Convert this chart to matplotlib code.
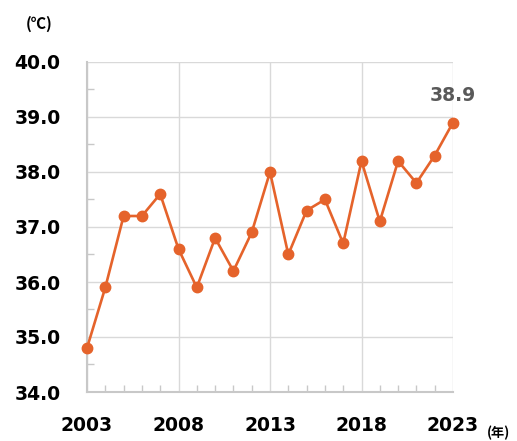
import matplotlib.pyplot as plt
from matplotlib.ticker import MultipleLocator

years = list(range(2003, 2024))
temps = [34.8, 35.9, 37.2, 37.2, 37.6, 36.6, 35.9, 36.8, 36.2, 36.9, 38.0,
         36.5, 37.3, 37.5, 36.7, 38.2, 37.1, 38.2, 37.8, 38.3, 38.9]
xticks = [2003, 2008, 2013, 2018, 2023]
yticks = [34.0, 35.0, 36.0, 37.0, 38.0, 39.0, 40.0]

plt.rcParams['font.family'] = ['DejaVu Sans', 'Noto Sans CJK JP']

fig = plt.figure(figsize=(5.17, 4.41), dpi=100)
ax = fig.add_axes([87 / 517, 1 - 392 / 441, (453 - 87) / 517, (392 - 62) / 441])

ax.plot(years, temps, color='#E5632B', lw=1.9, marker='o', ms=7.5, zorder=3, clip_on=False)

ax.set_xlim(2003, 2023)
ax.set_ylim(34, 40)
ax.set_xticks(xticks)
ax.set_yticks(yticks)
ax.set_xticklabels([str(x) for x in xticks], fontsize=13.5, fontweight='bold')
ax.set_yticklabels([f'{y:.1f}' for y in yticks], fontsize=13.5, fontweight='bold')
ax.xaxis.set_minor_locator(MultipleLocator(1))
ax.yaxis.set_minor_locator(MultipleLocator(0.5))
ax.tick_params(which='major', length=0, pad=19)
ax.tick_params(which='minor', direction='in', length=5, color='#C8C8C8', width=1)
ax.tick_params(axis='x', which='major', pad=17)

ax.grid(True, which='major', color='#D9D9D9', lw=1)
for s in ['top', 'right']:
    ax.spines[s].set_visible(False)
for s in ['left', 'bottom']:
    ax.spines[s].set_color('#C8C8C8')
    ax.spines[s].set_linewidth(1.5)

ax.text(2023, 38.9 + 0.5, '38.9', ha='center', va='center', fontsize=13.5,
        fontweight='bold', color='#595959')
fig.text(39 / 517, 1 - 24 / 441, '(℃)', ha='center', va='center', fontsize=11,
         fontweight='bold', family=['Noto Sans CJK JP', 'DejaVu Sans'])
fig.text(498 / 517, 1 - 433 / 441, '(年)', ha='center', va='center', fontsize=9.5,
         fontweight='bold', family=['Noto Sans CJK JP', 'DejaVu Sans'])

fig.savefig('out.png', dpi=100)
